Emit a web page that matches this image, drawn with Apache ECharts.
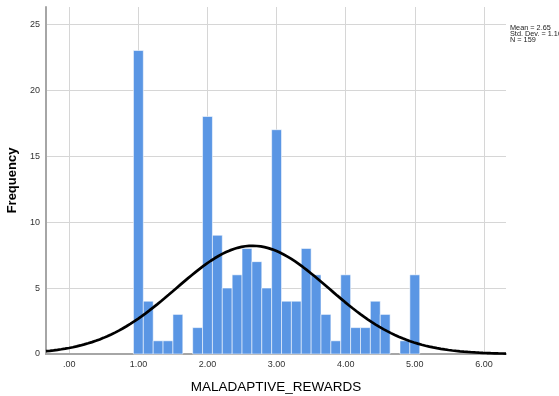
<!DOCTYPE html>
<html>
<head>
<meta charset="utf-8">
<script src="https://cdn.jsdelivr.net/npm/echarts@6/dist/echarts.min.js"></script>
<style>
  html, body { margin: 0; padding: 0; background: #fff; }
  #chart { width: 559px; height: 396px; }
</style>
</head>
<body>
<div id="chart"></div>
<script>
// Histogram of MALADAPTIVE_REWARDS (bins of width 1/7 starting at 1.00)
const binStart = 1.0;
const binWidth = 1 / 7;
const binCounts = [23, 4, 1, 1, 3, 0, 2, 18, 9, 5, 6, 8, 7, 5, 17, 4, 4, 8, 6, 3, 1, 6, 2, 2, 4, 3, 0, 1, 6];

// Summary statistics
const statMean = 2.651;
const statSd = 1.105;
const statN = 159;

// Axis ticks
const xTickValues = [0, 1, 2, 3, 4, 5, 6];
const xTickLabels = ['.00', '1.00', '2.00', '3.00', '4.00', '5.00', '6.00'];
const yTickValues = [0, 5, 10, 15, 20, 25];

const xMin = -0.337, xMax = 6.32;
const yMin = 0, yMax = 26.3;

const barData = binCounts.map((c, k) => [binStart + k * binWidth, c]);

// Fitted normal curve scaled to the histogram (N * bin width * density)
const curveData = [];
const steps = 240;
for (let i = 0; i <= steps; i++) {
  const x = xMin + (xMax - xMin) * i / steps;
  const z = (x - statMean) / statSd;
  const y = statN * binWidth * Math.exp(-0.5 * z * z) / (statSd * Math.sqrt(2 * Math.PI));
  curveData.push([x, y]);
}

const chart = echarts.init(document.getElementById('chart'), null, { renderer: 'canvas' });
const font = 'Liberation Sans, Arial, sans-serif';

chart.setOption({
  animation: false,
  backgroundColor: '#ffffff',
  grid: { left: 46, right: 53, top: 7, bottom: 42, containLabel: false, outerBoundsMode: 'none' },
  xAxis: {
    type: 'value',
    min: xMin, max: xMax,
    name: 'MALADAPTIVE_REWARDS',
    nameLocation: 'middle',
    nameGap: 26,
    nameTextStyle: { fontFamily: font, fontSize: 13.5, color: '#000' },
    axisLine: { show: true, onZero: false, lineStyle: { color: '#a6a6a6', width: 2 } },
    axisTick: { show: false, customValues: xTickValues },
    axisLabel: {
      customValues: xTickValues,
      formatter: v => xTickLabels[xTickValues.indexOf(Math.round(v))] || '',
      fontFamily: font, fontSize: 9, color: '#333', margin: 6
    },
    splitLine: { show: true, lineStyle: { color: '#d6d6d6', width: 1 } }
  },
  yAxis: {
    type: 'value',
    min: yMin, max: yMax,
    name: 'Frequency',
    nameLocation: 'middle',
    nameGap: 21,
    nameRotate: 90,
    nameTextStyle: { fontFamily: font, fontSize: 13, fontWeight: 'bold', color: '#000' },
    axisLine: { show: true, onZero: false, lineStyle: { color: '#a6a6a6', width: 2 } },
    axisTick: { show: false, customValues: yTickValues },
    axisLabel: {
      customValues: yTickValues,
      fontFamily: font, fontSize: 9, color: '#333', margin: 6
    },
    splitLine: { show: true, lineStyle: { color: '#d6d6d6', width: 1 } }
  },
  graphic: [
    {
      type: 'text', left: 510, top: 24, silent: true,
      style: {
        text: 'Mean = 2.65\nStd. Dev. = 1.105\nN = 159',
        fontFamily: font, fontSize: 7.3, lineHeight: 6.2, fill: '#222'
      }
    }
  ],
  series: [
    {
      type: 'custom',
      data: barData,
      z: 2,
      renderItem: function (params, api) {
        const cx = api.value(0);
        const cnt = api.value(1);
        if (!cnt) return null;
        const p0 = api.coord([cx - binWidth / 2, cnt]);
        const p1 = api.coord([cx + binWidth / 2, 0]);
        return {
          type: 'rect',
          shape: { x: p0[0], y: p0[1], width: p1[0] - p0[0], height: p1[1] - p0[1] },
          style: { fill: '#5a96e4', stroke: 'rgba(255,255,255,0.55)', lineWidth: 1 }
        };
      }
    },
    {
      type: 'line',
      data: curveData,
      showSymbol: false,
      smooth: false,
      z: 5,
      clip: true,
      lineStyle: { color: '#000', width: 2.7 }
    }
  ]
});
</script>
</body>
</html>
